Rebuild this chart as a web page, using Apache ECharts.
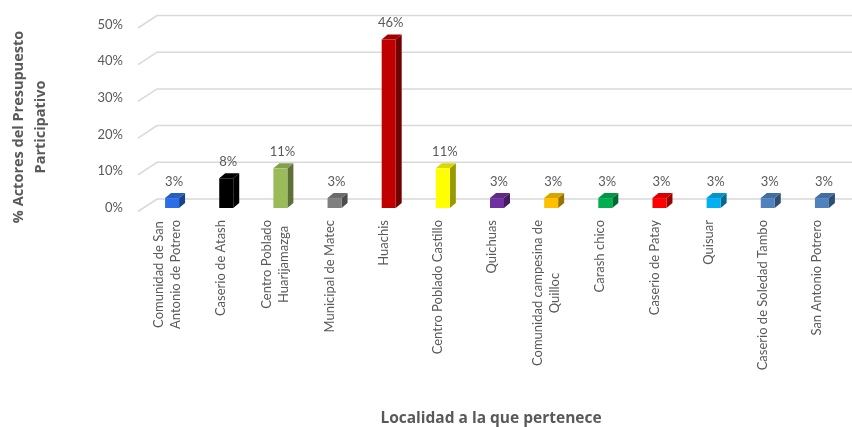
<!DOCTYPE html>
<html><head><meta charset="utf-8">
<script src="https://cdn.jsdelivr.net/npm/echarts@6/dist/echarts.min.js"></script>
<style>html,body{margin:0;padding:0;background:#fff}#c{width:852px;height:427px}</style>
</head><body><div id="c"></div>
<script>
const categories = ['Comunidad de San\nAntonio de Potrero','Caserio de Atash','Centro Poblado\nHuarijamazga','Municipal de Matec','Huachis','Centro Poblado Castillo','Quichuas','Comunidad campesina de\nQuilloc','Carash chico','Caserio de Patay','Quisuar','Caserio de Soledad Tambo','San Antonio Potrero'];
const values = [2.7, 8.1, 10.8, 2.7, 45.9, 10.8, 2.7, 2.7, 2.7, 2.7, 2.7, 2.7, 2.7];
const barColors = ['#2A6FE6','#000000','#9BBB59','#7F7F7F','#C00000','#FFFF00','#7030A0','#FFC000','#00B050','#FF0000','#00B0F0','#4F81BD','#4F81BD'];
const yTicks = [0, 10, 20, 30, 40, 50];
const yTitle = '% Actores del Presupuesto\nParticipativo';
const xTitle = 'Localidad a la que pertenece';

const FONT = 'Lato';
const TFONT = 'Open Sans';
const GRAY = '#595959';

function shade(hex, f) {
  const n = parseInt(hex.slice(1), 16);
  const r = Math.round(((n >> 16) & 255) * f), g = Math.round(((n >> 8) & 255) * f), b = Math.round((n & 255) * f);
  return 'rgb(' + r + ',' + g + ',' + b + ')';
}

function renderBar(params, api) {
  const i = api.value(0), v = api.value(1);
  const base = api.coord([i, 0]);
  const top = api.coord([i, v]);
  const hw = 7, dx = 6, dy = 5;
  const x = base[0], yb = base[1], yt = top[1];
  const c = barColors[i];
  return {
    type: 'group',
    children: [
      { type: 'polygon', shape: { points: [[x + hw, yt], [x + hw + dx, yt - dy], [x + hw + dx, yb - dy], [x + hw, yb]] }, style: { fill: shade(c, 0.6) } },
      { type: 'polygon', shape: { points: [[x - hw, yt], [x - hw + dx, yt - dy], [x + hw + dx, yt - dy], [x + hw, yt]] }, style: { fill: shade(c, 0.85) } },
      { type: 'rect', shape: { x: x - hw, y: yt, width: 2 * hw, height: yb - yt }, style: { fill: c } },
      { type: 'text', x: x + 2, y: yt - dy - 5, style: { text: Math.round(v) + '%', align: 'center', verticalAlign: 'bottom', fill: GRAY, font: '13px ' + FONT } }
    ]
  };
}

function renderGrid(params, api) {
  const v = api.value(1);
  const p = api.coord([0, v]);
  const cs = params.coordSys;
  const y = p[1];
  return {
    type: 'polyline',
    shape: { points: [[cs.x - 7, y + 3.5], [cs.x + 12, y - 9], [852, y - 9]] },
    style: { stroke: '#D9D9D9', lineWidth: 1.5, fill: null }
  };
}

const chart = echarts.init(document.getElementById('c'));
chart.setOption({
  animation: false,
  backgroundColor: '#ffffff',
  grid: { left: 145, right: 3, top: 24.5, bottom: 219 },
  xAxis: {
    type: 'category',
    data: categories,
    axisLine: { show: false },
    axisTick: { show: false },
    axisLabel: {
      interval: 0,
      rotate: 90,
      margin: 12,
      padding: [0, 0, 10, 0],
      formatter: function (s) { return s.split('\n').map(l => '{c|' + l + '}').join('\n'); },
      rich: { c: { align: 'center', color: GRAY, fontSize: 13, fontFamily: FONT, lineHeight: 17 } }
    }
  },
  yAxis: {
    type: 'value',
    min: 0, max: 50, interval: 10,
    axisLine: { show: false },
    axisTick: { show: false },
    splitLine: { show: false },
    axisLabel: { formatter: '{value}%', color: GRAY, fontSize: 13, fontFamily: FONT, margin: 22, padding: [6, 0, 0, 0] }
  },
  graphic: [
    { type: 'text', x: 30, y: 127, rotation: Math.PI / 2, style: { text: yTitle, align: 'center', verticalAlign: 'middle', font: 'bold 14.5px "' + TFONT + '"', fill: GRAY, lineHeight: 22 } },
    { type: 'text', x: 491, y: 419, style: { text: xTitle, align: 'center', verticalAlign: 'middle', font: 'bold 15.5px "' + TFONT + '"', fill: GRAY } }
  ],
  series: [
    { type: 'custom', renderItem: renderGrid, data: yTicks.map(v => [0, v]), z: 1, silent: true },
    { type: 'custom', renderItem: renderBar, data: values.map((v, i) => [i, v]), z: 5 }
  ]
});
</script></body></html>
